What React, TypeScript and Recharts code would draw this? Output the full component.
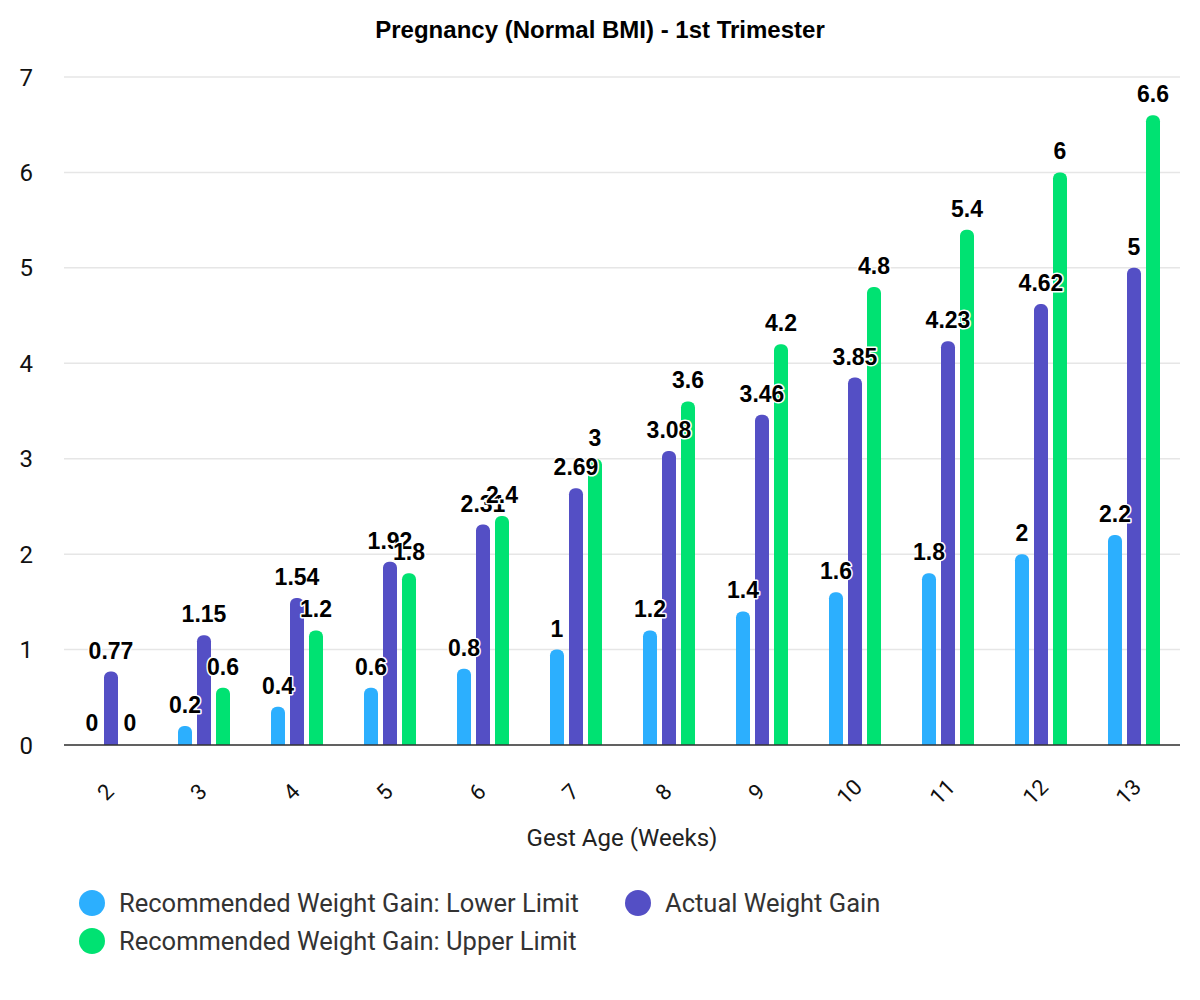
import { BarChart, Bar, XAxis, YAxis, CartesianGrid, Legend, LabelList } from 'recharts';

const weeks = ['2', '3', '4', '5', '6', '7', '8', '9', '10', '11', '12', '13'];
const lowerLimit = [0, 0.2, 0.4, 0.6, 0.8, 1, 1.2, 1.4, 1.6, 1.8, 2, 2.2];
const actualGain = [0.77, 1.15, 1.54, 1.92, 2.31, 2.69, 3.08, 3.46, 3.85, 4.23, 4.62, 5];
const upperLimit = [0, 0.6, 1.2, 1.8, 2.4, 3, 3.6, 4.2, 4.8, 5.4, 6, 6.6];
const yTicks = [0, 1, 2, 3, 4, 5, 6, 7];

const series = [
  { key: 'lower', name: 'Recommended Weight Gain: Lower Limit', color: '#2caffe' },
  { key: 'actual', name: 'Actual Weight Gain', color: '#544fc5' },
  { key: 'upper', name: 'Recommended Weight Gain: Upper Limit', color: '#00e272' },
];

const data = weeks.map((week, i) => ({
  week,
  lower: lowerLimit[i],
  actual: actualGain[i],
  upper: upperLimit[i],
}));

const ARIAL = '"Liberation Sans", Arial, sans-serif';
const ROBOTO = 'Roboto, "Noto Sans", sans-serif';

function ValueLabel(props: any) {
  const { x, y, width, value } = props;
  return (
    <text
      x={x + width / 2}
      y={y - 13}
      textAnchor="middle"
      fontFamily={ARIAL}
      fontWeight="bold"
      fontSize={23}
      fill="#000"
      stroke="#fff"
      strokeWidth={3}
      strokeLinejoin="round"
      paintOrder="stroke"
    >
      {String(value)}
    </text>
  );
}

function WeekTick(props: any) {
  const { x, y, payload } = props;
  const cx = x - 5;
  const cy = y + 47;
  return (
    <text
      x={cx}
      y={cy}
      transform={`rotate(-45 ${cx} ${cy})`}
      textAnchor="middle"
      dominantBaseline="central"
      fontFamily={ROBOTO}
      fontSize={22}
      fill="#111"
    >
      {payload.value}
    </text>
  );
}

function LegendBox() {
  return (
    <div
      style={{
        height: 100,
        boxSizing: 'border-box',
        paddingTop: 14,
        paddingLeft: 79,
        display: 'grid',
        gridTemplateColumns: '546px auto',
        gridAutoRows: '38px',
        fontFamily: ROBOTO,
        fontSize: 25.5,
        color: '#333',
      }}
    >
      {series.map((s) => (
        <div key={s.key} style={{ display: 'flex', alignItems: 'center', whiteSpace: 'nowrap' }}>
          <span
            style={{
              width: 26,
              height: 26,
              borderRadius: '50%',
              background: s.color,
              marginRight: 14,
              flex: 'none',
            }}
          />
          <span>{s.name}</span>
        </div>
      ))}
    </div>
  );
}

export default function App() {
  return (
    <div style={{ position: 'relative', width: 1200, height: 1000, background: '#fff' }}>
      <style>{'body{margin:0}'}</style>
      <div
        style={{
          position: 'absolute',
          top: 16,
          left: 0,
          width: 1200,
          textAlign: 'center',
          fontFamily: ARIAL,
          fontWeight: 'bold',
          fontSize: 24,
          lineHeight: '28px',
          color: '#000',
        }}
      >
        Pregnancy (Normal BMI) - 1st Trimester
      </div>
      <BarChart
        width={1200}
        height={1000}
        data={data}
        margin={{ top: 77, right: 20, bottom: 30, left: 0 }}
        barSize={14}
        barGap={5}
      >
        <CartesianGrid vertical={false} stroke="#e6e6e6" strokeWidth={1.5} />
        <XAxis
          dataKey="week"
          height={125}
          tickLine={false}
          tickSize={0}
          tickMargin={0}
          axisLine={{ stroke: '#333', strokeWidth: 1.5 }}
          tick={<WeekTick />}
          interval={0}
          label={{
            value: 'Gest Age (Weeks)',
            position: 'insideBottom',
            offset: 24,
            fill: '#222',
            fontSize: 24,
            fontFamily: ROBOTO,
          }}
        />
        {/* hidden twin axis: label-only bars drawn after all real bars so labels sit on top */}
        <XAxis xAxisId="labels" dataKey="week" hide />
        <YAxis
          width={64}
          domain={[0, 7]}
          ticks={yTicks}
          axisLine={false}
          tickLine={false}
          tickSize={0}
          tickMargin={31}
          tick={{ fill: '#111', fontSize: 24, fontFamily: ROBOTO }}
        />
        <Legend
          content={<LegendBox />}
          verticalAlign="bottom"
          wrapperStyle={{ left: 0, bottom: 30, width: 1200 }}
        />
        {series.map((s) => (
          <Bar
            key={s.key}
            dataKey={s.key}
            name={s.name}
            fill={s.color}
            radius={[6, 6, 0, 0]}
            isAnimationActive={false}
          />
        ))}
        {series.map((s) => (
          <Bar
            key={`${s.key}-labels`}
            xAxisId="labels"
            dataKey={s.key}
            fill="transparent"
            minPointSize={1}
            legendType="none"
            isAnimationActive={false}
          >
            <LabelList dataKey={s.key} content={<ValueLabel />} />
          </Bar>
        ))}
      </BarChart>
    </div>
  );
}
